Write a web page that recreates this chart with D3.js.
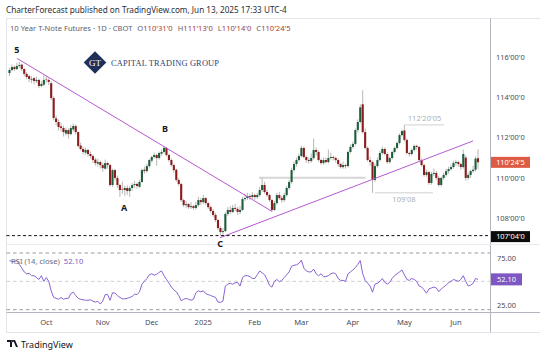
<!DOCTYPE html>
<html><head><meta charset="utf-8">
<script src="https://cdn.jsdelivr.net/npm/d3@7"></script>
<style>body{margin:0;background:#fff}svg{display:block}text{font-family:"Noto Sans",sans-serif}text.serif{font-family:"Liberation Serif","DejaVu Serif",serif}</style>
</head><body>
<svg id="c" width="540" height="356"></svg>
<script>
// ---------------- DATA ----------------
const startDate = "2024-09-10", endDate = "2025-06-13";
const closedDays = ["2024-11-28","2024-12-25","2025-01-01","2025-01-20","2025-02-17","2025-04-18","2025-05-26"];
const monthKeys   = ["2024-10","2024-11","2024-12","2025-01","2025-02","2025-03","2025-04","2025-05","2025-06"];
const monthLabels = ["Oct","Nov","Dec","2025","Feb","Mar","Apr","May","Jun"];

const opens = [115.20,115.35,115.50,115.40,115.55,115.62,115.40,115.16,115.05,114.88,114.95,114.80,114.86,114.56,114.62,114.90,114.86,114.70,113.96,112.95,
112.77,112.55,112.47,112.20,112.37,112.17,112.40,112.57,112.27,111.60,111.43,111.25,111.38,111.18,111.08,110.90,110.70,110.78,110.63,110.45,
110.73,110.63,109.64,110.38,109.99,109.64,109.45,109.39,109.49,109.34,109.49,109.64,109.69,109.55,109.79,110.40,110.33,110.58,110.85,111.03,
111.13,110.98,111.20,111.28,111.48,111.13,110.88,110.63,110.40,109.89,109.69,108.89,108.64,108.69,108.54,108.59,108.50,108.64,108.89,108.79,
108.99,108.74,108.54,108.35,108.15,107.90,107.50,107.30,107.35,108.20,108.40,108.30,108.50,108.45,108.30,108.40,108.94,108.99,109.09,109.04,
109.14,109.04,109.14,109.39,109.64,109.29,109.14,108.89,108.40,108.74,109.14,108.99,108.89,109.14,109.49,109.79,110.38,110.68,110.88,111.08,
111.48,111.03,110.88,110.83,110.98,111.38,111.28,110.88,110.73,110.88,110.78,110.98,111.03,110.98,110.88,110.68,110.53,110.63,110.58,111.28,
111.53,111.68,112.37,112.77,113.65,112.27,111.48,110.88,110.78,109.89,110.58,110.88,111.23,111.43,111.18,110.78,110.98,111.28,111.48,111.73,
112.12,112.35,111.88,111.23,111.18,111.38,111.58,111.53,110.88,110.63,110.14,110.28,109.74,110.19,110.24,109.99,109.64,109.99,110.14,110.33,
110.43,110.53,110.73,110.78,110.68,110.53,111.00,109.99,110.14,110.33,110.40,110.97];
const highs = [115.45,115.62,115.58,115.72,115.76,115.66,115.45,115.25,115.12,115.05,115.00,115.02,114.92,114.80,115.10,115.05,114.95,114.78,114.05,113.10,
112.90,112.75,112.60,112.50,112.45,112.62,112.70,112.65,112.30,111.75,111.55,111.50,111.45,111.30,111.15,111.00,110.95,110.85,110.75,110.90,
110.80,110.70,110.45,110.45,110.10,109.70,109.80,109.60,109.62,109.60,109.75,109.85,109.78,109.90,110.45,110.55,110.70,110.95,111.10,111.25,
111.20,111.30,111.40,111.58,111.52,111.20,110.95,110.70,110.45,110.00,109.75,108.95,108.85,108.75,108.80,108.65,108.80,109.05,109.00,109.15,
109.05,108.80,108.60,108.45,108.25,107.95,107.60,107.50,108.30,108.55,108.60,108.65,108.70,108.55,108.60,109.05,109.20,109.25,109.20,109.30,
109.22,109.25,109.55,110.00,109.80,109.40,109.20,108.95,108.85,109.25,109.30,109.10,109.25,109.60,109.90,110.50,110.80,111.00,111.20,111.60,
111.55,111.10,111.00,111.20,111.95,111.50,111.35,110.95,111.00,111.00,111.40,111.25,111.10,111.05,110.95,110.75,110.80,110.70,111.35,111.65,
111.80,112.45,112.90,113.65,114.35,112.45,111.55,111.05,110.85,110.70,111.00,111.35,111.55,111.50,111.25,111.05,111.35,111.55,111.80,112.20,
112.40,112.63,111.95,111.30,111.45,111.65,111.65,111.60,110.95,110.70,110.40,110.35,110.30,110.45,110.35,110.10,110.05,110.25,110.45,110.55,
110.65,110.85,110.90,110.85,110.75,111.40,111.10,110.25,110.40,110.60,111.05,111.41];
const lows = [115.05,115.30,115.30,115.35,115.45,115.30,115.05,114.90,114.75,114.70,114.65,114.72,114.45,114.50,114.55,114.70,114.60,113.85,112.85,112.60,
112.35,112.30,112.05,112.10,111.95,112.10,112.30,112.15,111.50,111.35,111.15,111.15,111.05,110.95,110.75,110.60,110.55,110.45,110.30,110.40,
110.45,109.55,109.55,109.85,109.50,109.05,109.20,109.10,109.15,109.05,109.35,109.50,109.45,109.50,109.75,110.20,110.25,110.50,110.75,110.95,
110.60,110.90,111.10,111.20,111.05,110.80,110.55,110.25,109.80,109.60,108.80,108.55,108.50,108.45,108.45,108.40,108.42,108.55,108.65,108.70,
108.65,108.45,108.25,108.05,107.80,107.40,107.13,107.15,107.30,108.10,108.20,108.25,108.35,108.15,108.20,108.35,108.85,108.90,108.90,108.95,
108.90,108.95,109.05,109.30,109.20,109.05,108.80,108.30,108.35,108.65,108.90,108.75,108.80,109.05,109.40,109.70,110.30,110.55,110.80,111.00,
110.95,110.75,110.70,110.75,110.90,111.10,110.80,110.65,110.65,110.70,110.70,110.90,110.85,110.75,110.55,110.45,110.45,110.45,110.50,111.20,
111.45,111.60,112.25,112.70,112.20,111.40,110.80,110.60,109.25,109.80,110.50,110.80,111.15,111.10,110.70,110.70,110.90,111.20,111.40,111.65,
112.05,111.80,111.15,111.05,111.10,111.30,111.40,110.80,110.55,110.05,110.05,109.65,109.65,110.10,109.90,109.55,109.55,109.90,110.05,110.20,
110.35,110.45,110.60,110.55,110.40,110.45,109.85,109.90,110.00,110.25,110.30,110.44];
const closes = [115.35,115.50,115.40,115.55,115.60,115.40,115.16,115.01,114.91,114.91,114.81,114.86,114.56,114.66,114.86,114.86,114.76,113.96,112.97,112.77,
112.52,112.47,112.27,112.37,112.17,112.47,112.57,112.27,111.58,111.43,111.28,111.38,111.18,111.08,110.88,110.73,110.78,110.63,110.48,110.73,
110.63,109.64,110.38,109.99,109.64,109.39,109.39,109.49,109.34,109.49,109.64,109.69,109.59,109.79,110.38,110.33,110.58,110.88,111.03,111.13,
110.98,111.23,111.28,111.48,111.13,110.88,110.63,110.38,109.89,109.69,108.89,108.64,108.69,108.54,108.59,108.50,108.64,108.89,108.79,108.99,
108.74,108.54,108.35,108.15,107.90,107.50,107.30,107.35,108.20,108.40,108.30,108.50,108.45,108.30,108.40,108.94,108.99,109.09,109.04,109.14,
109.04,109.14,109.39,109.64,109.29,109.14,108.89,108.40,108.74,109.14,108.99,108.89,109.14,109.49,109.79,110.38,110.68,110.88,111.08,111.48,
111.03,110.88,110.83,110.98,111.38,111.28,110.88,110.73,110.88,110.78,110.98,111.03,110.98,110.88,110.68,110.53,110.63,110.58,111.28,111.53,
111.68,112.37,112.77,113.50,112.27,111.48,110.88,110.78,109.89,110.58,110.88,111.23,111.43,111.18,110.78,110.98,111.28,111.48,111.73,112.12,
112.32,111.88,111.23,111.18,111.38,111.58,111.53,110.88,110.63,110.14,110.28,109.74,110.19,110.24,109.99,109.64,109.99,110.14,110.33,110.43,
110.53,110.73,110.78,110.68,110.53,111.18,109.99,110.14,110.33,110.40,110.95,110.77];
const rsi = [72,71,71,72,68,64,60,58,58.5,56,56,54,52,56,50,54,50,40,33,32,
31,33,31,32,32,37,38.5,35,32,31,30.5,30,30,30.5,29,28,29,26,29,36,
36,30,38,37.5,35,33,31.5,31.5,32,33,34,36.5,36,39,47,50,53,57,58,56.5,
57.5,59.5,61,56,52,48,44,41,39,35,29.5,31,32,31,30,31,38,40,39,40,
37,36,35,34,33,28,27.8,29,45,47,48,47,48.5,49,45,54,56,56,55,53,
53,57,61,59,57,52,45.7,43.9,50,52,49.5,51,54,57,60,66,67,67.5,69,72.5,
64,61,60,60,63,58,56,58,55,55,56,58,59,58,53,51,51,50,58,60,
62,64.5,68,72,58,51,48,45,38.5,47,48,50,53,49,47,49,53,56,58,60,
62,57,52,51,53,52,50,45,44,41,37.5,42,43,44,43,39,42,44,46,48.5,
50,52,51,50,52,56,50,45,46,48,53,52.1];
const priceTicks = [108, 110, 112, 114, 116];
const rsiTicks = [75, 25];
const rsiBands = [80, 50, 20];
const lastPrice = 110.765625, lastPriceLabel = "110'24'5";
const markedLow = 107.125, markedLowLabel = "107'04'0";
const lastRsiLabel = "52.10";
const waveLabels = [{t:"5", i:3, p:116.22},{t:"A", i:46.7, p:108.36},{t:"B", i:63.4, p:112.28},{t:"C", i:85.9, p:106.57}];
const trendLines = [{i1:3.1, p1:115.93, i2:107, p2:108.33},{i1:85.8, p1:107.02, i2:189, p2:111.83}];
const levelLines = [{p:110.0, i1:101.7, i2:145.2, label:"", w:2.2},
                    {p:112.625, i1:161.2, i2:177.2, label:"112'20'05", w:1},
                    {p:109.25, i1:149, i2:172.6, label:"109'08", w:1}];
const header = "CharterForecast published on TradingView.com, Jun 13, 2025 17:33 UTC-4";
const title = "10 Year T-Note Futures · 1D · CBOT";
const ohlcLegend = [["O","110'31'0"],["H","111'13'0"],["L","110'14'0"],["C","110'24'5"]];

// ---------------- BUILD ----------------
const parse = d3.utcParse("%Y-%m-%d"), fmtDay = d3.utcFormat("%Y-%m-%d"), fmtMonth = d3.utcFormat("%Y-%m");
const dates = d3.utcDay.range(parse(startDate), d3.utcDay.offset(parse(endDate),1))
  .filter(d => d.getUTCDay()!==0 && d.getUTCDay()!==6 && !closedDays.includes(fmtDay(d)));
const n = closes.length;
const bars = d3.range(n).map(i => ({i, date:dates[i], o:opens[i], h:highs[i], l:lows[i], c:closes[i], prev: i?closes[i-1]:opens[i]}));

const svg = d3.select("#c");
const W = 540, axisX = 490.5, frameTop = 18.5, mainBottom = 244.5, rsiBottom = 312.5, frameBottom = 332.5, frameLeft = 6.5;

const x = d3.scaleLinear().domain([0, n-1]).range([9.5, 478]);
const y = d3.scaleLinear().domain([108, 116]).range([218, 57]);
const yr = d3.scaleLinear().domain([20, 80]).range([309.7, 253]);

svg.append("defs").append("clipPath").attr("id","mainClip").append("rect")
  .attr("x",frameLeft).attr("y",frameTop).attr("width",axisX-frameLeft).attr("height",mainBottom-frameTop);

// header
svg.append("text").attr("x",6).attr("y",12.5).attr("font-size",8.2).attr("fill","#2a2e39").text(header);
// frame
svg.append("rect").attr("x",frameLeft).attr("y",frameTop).attr("width",W-frameLeft+2).attr("height",frameBottom-frameTop)
  .attr("fill","#fff").attr("stroke","#e3e5ea");
svg.append("line").attr("x1",axisX).attr("x2",axisX).attr("y1",frameTop).attr("y2",frameBottom).attr("stroke","#b2b5be");
svg.append("line").attr("x1",frameLeft).attr("x2",W).attr("y1",mainBottom).attr("y2",mainBottom).attr("stroke","#e9eaee");
svg.append("line").attr("x1",frameLeft).attr("x2",W).attr("y1",rsiBottom).attr("y2",rsiBottom).attr("stroke","#b2b5be");

// legend line
const lg = svg.append("text").attr("x",10).attr("y",31).attr("font-size",7.6).attr("fill","#5d606b");
lg.append("tspan").text(title);
ohlcLegend.forEach(([k,v]) => { lg.append("tspan").attr("dx",5).text(k); lg.append("tspan").attr("fill","#a3423a").text(v); });

// logo
const logo = svg.append("g");
logo.append("rect").attr("x",95-8).attr("y",62.5-8).attr("width",16).attr("height",16)
  .attr("transform","rotate(45,95,62.5)").attr("fill","#1f2f5a");
logo.append("text").attr("class","serif").attr("x",95).attr("y",65.6).attr("font-size",9).attr("text-anchor","middle")
  .attr("fill","#fff").text("GT");
logo.append("text").attr("class","serif").attr("x",111).attr("y",65.5).attr("font-size",8.4)
  .attr("fill","#2f3f6e").attr("textLength",108).attr("lengthAdjust","spacing").text("CAPITAL TRADING GROUP");

// main plot
const g = svg.append("g").attr("clip-path","url(#mainClip)");
levelLines.forEach(d => {
  g.append("line").attr("x1",x(d.i1)).attr("x2",x(d.i2)).attr("y1",y(d.p)).attr("y2",y(d.p))
    .attr("stroke", d.w>1 ? "#d6d6d6" : "#d0d0d0").attr("stroke-width",d.w);
});
levelLines.filter(d=>d.label).forEach(d => {
  const above = d.p > 111;
  g.append("text").attr("x",(x(d.i1)+x(d.i2))/2).attr("y", above ? y(d.p)-4 : y(d.p)+9)
    .attr("text-anchor","middle").attr("font-size",7.5).attr("fill","#b0b0b0").text(d.label);
});
svg.append("line").attr("x1",frameLeft).attr("x2",axisX).attr("y1",y(markedLow)).attr("y2",y(markedLow))
  .attr("stroke","#111").attr("stroke-dasharray","3,2.5").attr("stroke-width",1);

// candles
const upDark="#1e5c3c", upLight="#7fb89a", dnDark="#8a1c1c", dnLight="#e0705c";
const colorOf = d => d.c >= d.o ? (d.c >= d.prev ? upDark : upLight) : (d.c < d.prev ? dnDark : dnLight);
g.selectAll(".wick").data(bars).join("line").attr("class","wick")
  .attr("x1",d=>x(d.i)).attr("x2",d=>x(d.i)).attr("y1",d=>y(d.h)).attr("y2",d=>y(d.l))
  .attr("stroke","#a5a5a5").attr("stroke-width",0.8);
g.selectAll(".body").data(bars).join("rect").attr("class","body")
  .attr("x",d=>x(d.i)-1.05).attr("width",2.1)
  .attr("y",d=>y(Math.max(d.o,d.c))).attr("height",d=>Math.max(0.8, Math.abs(y(d.o)-y(d.c))))
  .attr("fill",colorOf);

trendLines.forEach(d => g.append("line").attr("x1",x(d.i1)).attr("y1",y(d.p1)).attr("x2",x(d.i2)).attr("y2",y(d.p2))
  .attr("stroke","#b65ad0").attr("stroke-width",1));

waveLabels.forEach(d => svg.append("text").attr("x",x(d.i)).attr("y",y(d.p)).attr("text-anchor","middle")
  .attr("font-size",9).attr("font-weight","bold").attr("fill","#1a1a1a").text(d.t));

// price axis
const fmt32 = p => { const w=Math.floor(p); const t=(p-w)*32; const t2=Math.floor(t); const f=Math.round((t-t2)*10);
  return w+"'"+String(t2).padStart(2,"0")+"'"+f; };
priceTicks.forEach(p => svg.append("text").attr("x",496).attr("y",y(p)+2.8).attr("font-size",7.4).attr("fill","#4a4d57").text(fmt32(p)));
function tag(yv, bg, txt, w){
  svg.append("rect").attr("x",axisX+0.5).attr("y",yv-5.5).attr("width",w).attr("height",11).attr("fill",bg);
  svg.append("text").attr("x",axisX+0.5+w/2).attr("y",yv+2.7).attr("text-anchor","middle").attr("font-size",7.4).attr("fill","#fff").text(txt);
}
tag(y(lastPrice), "#dd5a45", lastPriceLabel, 39);
tag(y(markedLow)+1, "#0c0c0c", markedLowLabel, 39);

// RSI pane
rsiBands.forEach(v => svg.append("line").attr("x1",frameLeft).attr("x2",axisX).attr("y1",yr(v)).attr("y2",yr(v))
  .attr("stroke", v===50 ? "#c9cad0" : "#8c8f99").attr("stroke-dasharray","3.5,3").attr("stroke-width",0.9));
svg.append("path").datum(rsi).attr("fill","none").attr("stroke","#8a63d2").attr("stroke-width",1)
  .attr("d", d3.line().x((d,i)=>x(i)).y(d=>yr(d)));
const rl = svg.append("text").attr("x",11).attr("y",264).attr("font-size",7.6).attr("fill","#6a6d78");
rl.append("tspan").text("RSI (14, close)");
rl.append("tspan").attr("dx",4).attr("fill","#7e57c2").text(lastRsiLabel);
rsiTicks.forEach(v => svg.append("text").attr("x",497).attr("y",yr(v)+2.8).attr("font-size",7.4).attr("fill","#4a4d57").text(v.toFixed(2)));
svg.append("rect").attr("x",axisX+0.5).attr("y",yr(rsi[n-1])-6).attr("width",31).attr("height",12).attr("fill","#7e57c2");
svg.append("text").attr("x",axisX+16).attr("y",yr(rsi[n-1])+2.8).attr("text-anchor","middle").attr("font-size",7.4).attr("fill","#fff").text(lastRsiLabel);

// time axis
monthKeys.forEach((k,j) => {
  const idx = bars.findIndex(b => b.date && fmtMonth(b.date)===k);
  if (idx<0) return;
  svg.append("text").attr("x",x(idx)).attr("y",325).attr("text-anchor","middle").attr("font-size",7.6)
    .attr("fill","#4a4d57").text(monthLabels[j]);
});

// footer
const ft = svg.append("g").attr("transform","translate(7,340)");
ft.append("path").attr("d","M0,0 H5 V7 H3 V2 H0 Z M6,0 H8 L11,7 H9 Z M5.5,0 a1,1 0 1 0 0.01,0").attr("fill","#131722");
ft.append("text").attr("x",14).attr("y",7.5).attr("font-size",9).attr("fill","#131722").text("TradingView");
</script>
</body></html>
